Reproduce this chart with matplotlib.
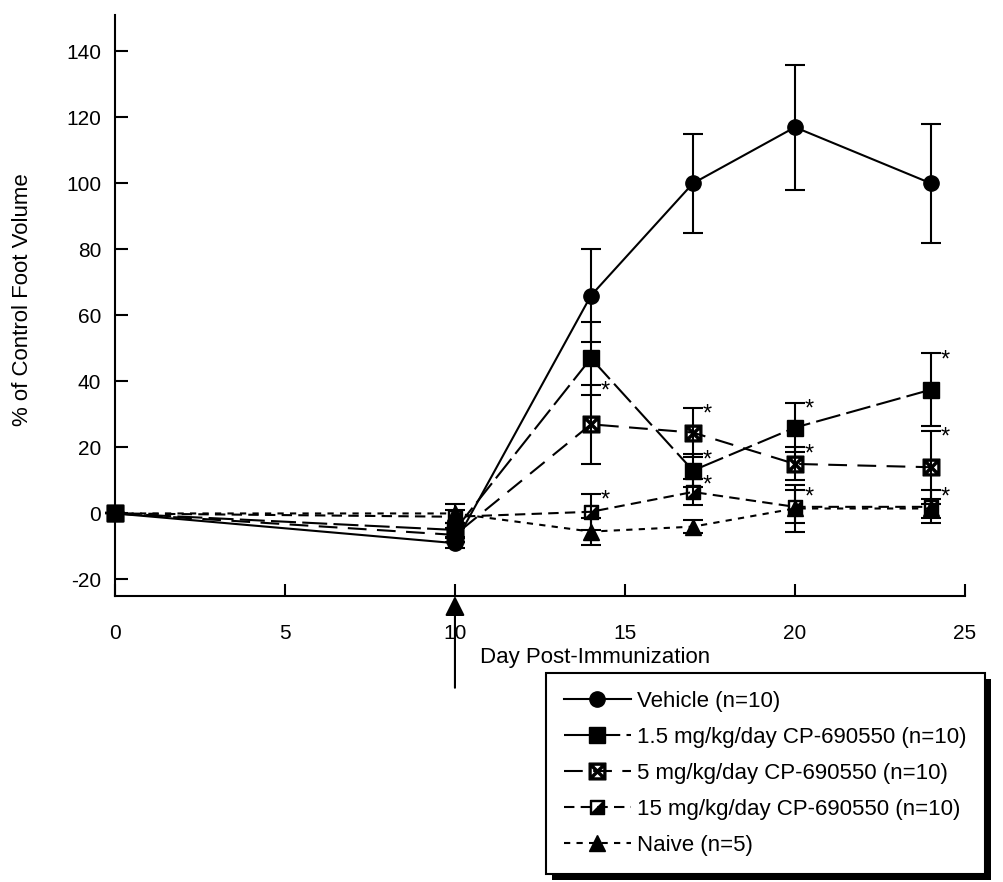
import matplotlib
matplotlib.use('Agg')
import matplotlib.pyplot as plt
from matplotlib.path import Path
from matplotlib.patches import Rectangle

plt.rcParams['font.family'] = ['Liberation Sans', 'DejaVu Sans']
plt.rcParams['axes.unicode_minus'] = False

days = [0, 10, 14, 17, 20, 24]

vehicle = [0, -9, 66, 100, 117, 100]
vehicle_err = [0, 1.5, 14, 15, 19, 18]

dose_1_5 = [0, -5, 47, 13, 26, 37.5]
dose_1_5_err = [0, 2, 11, 5, 7.5, 11]

dose_5 = [0, -6.5, 27, 24.5, 15, 14]
dose_5_err = [0, 2, 12, 7.5, 5, 11]

dose_15 = [0, -1, 0.5, 6.5, 2, 2]
dose_15_err = [0, 2, 5.5, 4, 5, 5]

naive = [0, 0, -5.5, -4, 1.5, 1.5]
naive_err = [0, 3, 4, 2, 7, 3]

# days with a significance star, per treated group
stars_1_5 = [17, 20, 24]
stars_5 = [14, 17, 20, 24]
stars_15 = [14, 17, 20, 24]

labels = ['Vehicle (n=10)', '1.5 mg/kg/day CP-690550 (n=10)',
          '5 mg/kg/day CP-690550 (n=10)', '15 mg/kg/day CP-690550 (n=10)',
          'Naive (n=5)']

# half filled square marker (outline ring + lower right triangle)
o, i = 1.0, 0.8
half_sq = Path(
    [(-o, -o), (o, -o), (o, o), (-o, o), (-o, -o),
     (-i, -i), (-i, i), (i, i), (i, -i), (-i, -i),
     (-i, -i), (i, -i), (i, i), (-i, -i)],
    [Path.MOVETO, Path.LINETO, Path.LINETO, Path.LINETO, Path.CLOSEPOLY,
     Path.MOVETO, Path.LINETO, Path.LINETO, Path.LINETO, Path.CLOSEPOLY,
     Path.MOVETO, Path.LINETO, Path.LINETO, Path.CLOSEPOLY])

fig = plt.figure(figsize=(10.04, 8.82), dpi=100)
ax = fig.add_axes([0.1145, 0.3243, 0.8466, 0.6587])

series = [
    (vehicle, vehicle_err, dict(marker='o', ms=11, ls='-')),
    (dose_1_5, dose_1_5_err, dict(marker='s', ms=11, ls=(0, (12, 3)))),
    (dose_5, dose_5_err, dict(marker=r'$\boxtimes$', ms=12, ls=(0, (9, 5)))),
    (dose_15, dose_15_err, dict(marker=half_sq, ms=10, ls=(0, (5, 3)))),
    (naive, naive_err, dict(marker='^', ms=11, ls=(0, (3, 3)))),
]

handles = []
for (vals, err, st), lab in zip(series, labels):
    h = ax.errorbar(days, vals, yerr=err, color='black', mfc='black', mec='black',
                    lw=1.5, elinewidth=1.5, capsize=7, capthick=1.5,
                    marker=st['marker'], ms=st['ms'], linestyle=st['ls'],
                    label=lab, clip_on=False)
    for art in h.lines[2]:
        art.set_clip_on(False)
    for art in h.lines[1]:
        art.set_clip_on(False)
    handles.append(h.lines[0])

for vals, err, sdays in [(dose_1_5, dose_1_5_err, stars_1_5),
                         (dose_5, dose_5_err, stars_5),
                         (dose_15, dose_15_err, stars_15)]:
    for d in sdays:
        k = days.index(d)
        ax.annotate('*', xy=(d, vals[k] + err[k]), xytext=(7, -5),
                    textcoords='offset points', fontsize=17, ha='left', va='center')

ax.set_xlim(0, 25)
ax.set_ylim(-25, 151)
ax.set_xticks([0, 5, 10, 15, 20, 25])
ax.set_yticks(range(-20, 141, 20))
ax.tick_params(axis='both', direction='in', length=9, width=1.5, labelsize=15)
ax.tick_params(axis='x', pad=20)
ax.tick_params(axis='y', pad=10)
ax.spines['top'].set_visible(False)
ax.spines['right'].set_visible(False)
for s in ['left', 'bottom']:
    ax.spines[s].set_linewidth(1.5)

fig.text(0.593, 0.254, 'Day Post-Immunization', fontsize=16, ha='center', va='center')
fig.text(0.022, 0.66, '% of Control Foot Volume', fontsize=16, rotation=90,
         ha='center', va='center')

# dosing start arrow
ax.annotate('', xy=(10, 0), xycoords=('data', 'axes fraction'),
            xytext=(10, -0.158), textcoords=('data', 'axes fraction'),
            arrowprops=dict(arrowstyle='-|>,head_length=0.6,head_width=0.3',
                            color='black', lw=1.5, mutation_scale=20,
                            shrinkA=0, shrinkB=0))

leg = fig.legend(handles=handles, labels=labels, loc='upper left',
                 bbox_to_anchor=(0.544, 0.237), borderaxespad=0, fontsize=16,
                 handlelength=3.0, handletextpad=0.3, labelspacing=0.68,
                 borderpad=0.8, fancybox=False, frameon=True, framealpha=1)
leg.get_frame().set_edgecolor('black')
leg.get_frame().set_facecolor('white')
leg.get_frame().set_linewidth(1.5)

fig.canvas.draw()
bb = leg.get_window_extent()
shadow = Rectangle((bb.x0 + 6, bb.y0 - 6), bb.width, bb.height, transform=None,
                   facecolor='black', edgecolor='none', zorder=leg.get_zorder() - 1)
fig.patches.append(shadow)

fig.savefig('out.png', dpi=100)
